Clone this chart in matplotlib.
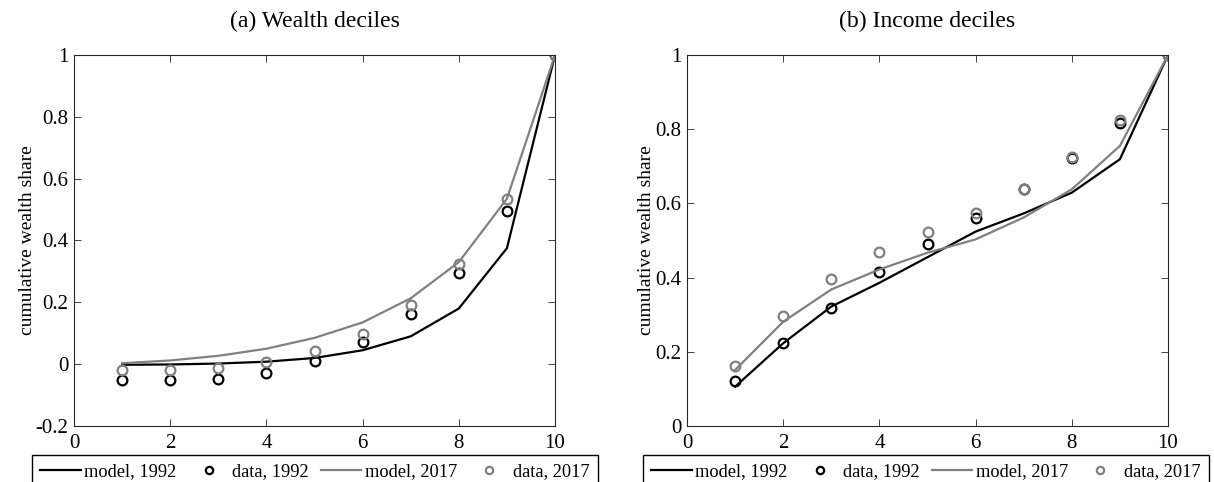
import matplotlib
matplotlib.use("Agg")
import matplotlib.pyplot as plt
import numpy as np

plt.rcParams['font.family'] = ['Liberation Serif', 'DejaVu Serif']

deciles = np.arange(1, 11)

# (a) wealth deciles
wealth_model_1992 = [-0.002, -0.001, 0.002, 0.008, 0.02, 0.045, 0.09, 0.18, 0.375, 1.0]
wealth_data_1992 = [-0.051, -0.052, -0.047, -0.029, 0.009, 0.071, 0.163, 0.294, 0.494, 1.0]
wealth_model_2017 = [0.003, 0.012, 0.027, 0.05, 0.085, 0.135, 0.213, 0.33, 0.535, 1.0]
wealth_data_2017 = [-0.020, -0.019, -0.013, 0.006, 0.041, 0.099, 0.19, 0.324, 0.533, 1.0]

# (b) income deciles
income_model_1992 = [0.106, 0.223, 0.322, 0.386, 0.455, 0.524, 0.573, 0.629, 0.719, 1.0]
income_data_1992 = [0.122, 0.225, 0.317, 0.416, 0.49, 0.56, 0.638, 0.723, 0.818, 1.0]
income_model_2017 = [0.151, 0.281, 0.368, 0.422, 0.467, 0.503, 0.562, 0.638, 0.755, 1.0]
income_data_2017 = [0.163, 0.297, 0.397, 0.469, 0.522, 0.575, 0.638, 0.726, 0.824, 1.0]

titles = ['(a) Wealth deciles', '(b) Income deciles']
ylims = [(-0.2, 1), (0, 1)]
yticks = [np.arange(-0.2, 1.01, 0.2), np.arange(0, 1.01, 0.2)]
ytick_labels = [['-0.2', '0', '0.2', '0.4', '0.6', '0.8', '1'],
                ['0', '0.2', '0.4', '0.6', '0.8', '1']]
series = [(wealth_model_1992, wealth_data_1992, wealth_model_2017, wealth_data_2017),
          (income_model_1992, income_data_1992, income_model_2017, income_data_2017)]

black = '#000000'
gray = '#808080'

W, H = 1214, 482
fig = plt.figure(figsize=(W / 100, H / 100), dpi=100)
ax_left = [74, 687]
legend_left = [32, 643]

for i in range(2):
    ax = fig.add_axes([ax_left[i] / W, (H - 426) / H, 481 / W, 371 / H])
    m92, d92, m17, d17 = series[i]
    ax.plot(deciles, m92, color=black, lw=1.6, label='model, 1992')
    ax.plot(deciles, d92, 'o', mfc='none', mec=black, mew=1.6, ms=7, label='data, 1992')
    ax.plot(deciles, m17, color=gray, lw=1.6, label='model, 2017')
    ax.plot(deciles, d17, 'o', mfc='none', mec=gray, mew=1.6, ms=7, label='data, 2017')
    ax.set_xlim(0, 10)
    ax.set_ylim(*ylims[i])
    ax.set_xticks(np.arange(0, 11, 2))
    ax.set_yticks(yticks[i])
    ax.set_yticklabels(ytick_labels[i])
    ax.tick_params(direction='in', top=True, right=True, length=5, width=0.6,
                   labelsize=15, color='#262626', pad=4)
    ax.tick_params(axis='x', pad=6)
    for s in ax.spines.values():
        s.set_linewidth(0.8)
        s.set_color('#262626')
    ax.set_ylabel('cumulative wealth share', fontsize=14, labelpad=0)
    ax.set_title(titles[i], fontsize=17, pad=20)
    ax.legend(loc='upper left', ncol=4, mode='expand',
              bbox_to_anchor=(legend_left[i] / W, 0, 566 / W, (H - 455) / H),
              bbox_transform=fig.transFigure, fontsize=13.2, frameon=True, fancybox=False,
              edgecolor='black', framealpha=1, handlelength=2.2, handletextpad=0.2,
              columnspacing=0.4, borderpad=0.45, borderaxespad=0, markerscale=0.75)

fig.savefig('out.png', dpi=100)
